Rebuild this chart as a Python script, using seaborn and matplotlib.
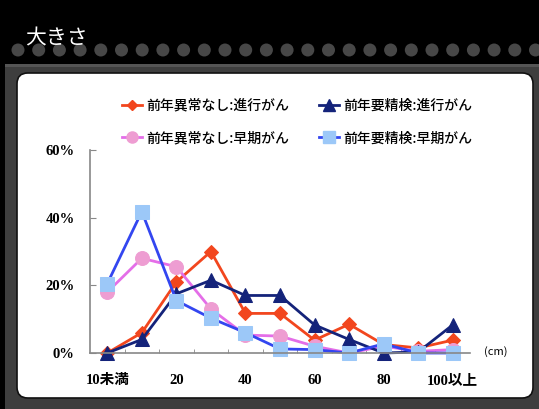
import matplotlib.pyplot as plt
import seaborn as sns
import numpy as np
from matplotlib.patches import Rectangle, Circle, FancyBboxPatch
from matplotlib.lines import Line2D

# データ（%）
categories = ["10未満", "10", "20", "30", "40", "50", "60", "70", "80", "90", "100以上"]
shown_labels = ["10未満", "", "20", "", "40", "", "60", "", "80", "", "100以上"]

normal_adv = [0, 6, 21, 30, 11.7, 11.7, 3.8, 8.5, 2.5, 1.5, 3.8]      # 前年異常なし:進行がん
recheck_adv = [0, 4, 17.5, 21.5, 17, 17, 8.3, 4, 0, 0.3, 8.3]      # 前年要精検:進行がん
normal_early = [18, 28, 25.5, 13, 5.3, 5, 2, 0, 2, 0.5, 1]          # 前年異常なし:早期がん
recheck_early = [20.5, 41.8, 15.5, 10.3, 6, 1.2, 1, 0, 2.7, 0, 0]  # 前年要精検:早期がん

series = [
    ("前年異常なし:進行がん", normal_adv, "#f2461e", "#f2461e", "D", 7.5),
    ("前年異常なし:早期がん", normal_early, "#e46ee8", "#ee9dd2", "o", 10),
    ("前年要精検:進行がん", recheck_adv, "#14237a", "#14237a", "^", 10),
    ("前年要精検:早期がん", recheck_early, "#3346f0", "#9cc8f8", "s", 10),
]

W, H = 539, 409
fig = plt.figure(figsize=(W / 100, H / 100), dpi=100)
fig.patch.set_facecolor("black")

def fx(px):
    return px / W

def fy(py):
    return 1 - py / H

# 背景：グレー部分と白いパネル
fig.patches.append(Rectangle((fx(5), 0), fx(W - 5), fy(64), transform=fig.transFigure,
                             facecolor="#3e3e3e", edgecolor="none", zorder=0))
fig.patches.append(Rectangle((fx(5), fy(67)), fx(W - 5), fy(64) - fy(67), transform=fig.transFigure,
                             facecolor="#555555", edgecolor="none", zorder=0))
for i in range(26):
    cx = 18 + i * 20.7
    fig.patches.append(Circle((cx / 100, (H - 50) / 100), 0.065, transform=fig.dpi_scale_trans,
                              facecolor="#474747", edgecolor="none", zorder=0))

fig.patches.append(FancyBboxPatch((fx(17), fy(398)), fx(516), fy(73) - fy(398),
                                  boxstyle="round,pad=0,rounding_size=0.02",
                                  transform=fig.transFigure, facecolor="white",
                                  edgecolor="#111111", linewidth=1.2, zorder=1,
                                  mutation_aspect=W / H))

fig.text(fx(25), fy(38), "大きさ", color="white", fontsize=15, va="center", ha="left",
         family=["Noto Sans CJK JP", "DejaVu Sans"], zorder=3)

# グラフ
ax = fig.add_axes([fx(90), fy(353), fx(470) - fx(90), fy(150) - fy(353)])
ax.set_zorder(5)
ax.set_facecolor("none")
x = np.arange(len(categories))
handles = []
for name, vals, lc, mc, mk, ms in series:
    sns.lineplot(x=x, y=vals, ax=ax, color=lc, marker=mk, markersize=ms,
                 markerfacecolor=mc, markeredgecolor=mc, linewidth=2.0, clip_on=False)
    handles.append(Line2D([], [], color=lc, marker=mk, markersize=ms - 2,
                          markerfacecolor=mc, markeredgecolor=mc, linewidth=2.0, label=name))

ax.set_xlim(-0.5, len(categories) - 0.5)
ax.set_ylim(0, 60)
ax.set_yticks([0, 20, 40, 60])
ax.set_yticklabels([f"{v}%" for v in [0, 20, 40, 60]])
ax.set_xticks(x)
ax.set_xticklabels(shown_labels)
ax.set_xticks(np.arange(0.5, len(categories) - 0.5, 1), minor=True)
ax.tick_params(axis="x", which="major", length=0, pad=15)
ax.tick_params(axis="x", which="minor", direction="in", length=3, color="#888888")
ax.tick_params(axis="y", direction="in", length=4, color="#888888", pad=11)
for lab in ax.get_xticklabels() + ax.get_yticklabels():
    lab.set_family(["Liberation Serif", "Noto Sans CJK JP"])
    lab.set_fontweight("bold")
    lab.set_fontsize(10.5)
for side in ["top", "right"]:
    ax.spines[side].set_visible(False)
for side in ["left", "bottom"]:
    ax.spines[side].set_color("#888888")
    ax.spines[side].set_linewidth(1.2)
ax.set_xlabel("")
ax.set_ylabel("")

fig.text(fx(484), fy(352), "(cm)", fontsize=8, va="center", ha="left",
         family=["Noto Sans CJK JP", "DejaVu Sans"], zorder=6)

leg = fig.legend(handles=handles, loc="upper left", bbox_to_anchor=(fx(109), fy(86)),
                 ncol=2, frameon=False, handlelength=1.5, handletextpad=0.3,
                 columnspacing=2.1, labelspacing=1.35,
                 prop={"family": ["Noto Sans CJK JP", "DejaVu Sans"], "size": 10,
                       "weight": "medium"})
leg.set_zorder(6)

fig.savefig("out.png", dpi=100, facecolor=fig.get_facecolor())
